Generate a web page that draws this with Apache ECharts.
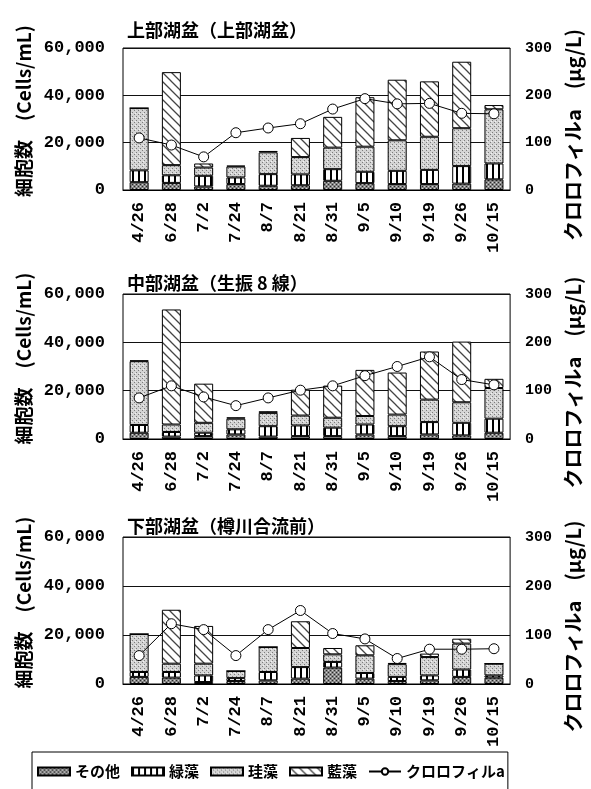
<!DOCTYPE html>
<html>
<head>
<meta charset="utf-8">
<script src="https://cdn.jsdelivr.net/npm/echarts@6/dist/echarts.min.js"></script>
<style>
  html, body { margin: 0; padding: 0; background: #fff; }
  #main { width: 591px; height: 789px; }
</style>
</head>
<body>
<div id="main"></div>
<script>
var categories = ['4/26', '6/28', '7/2', '7/24', '8/7', '8/21', '8/31', '9/5', '9/10', '9/19', '9/26', '10/15'];
var seriesNames = ['その他', '緑藻', '珪藻', '藍藻', 'クロロフィルa'];
var titles = ['上部湖盆（上部湖盆）', '中部湖盆（生振 8 線）', '下部湖盆（樽川合流前）'];
var cellTicks = [0, 20000, 40000, 60000];
var chlTicks = [0, 100, 200, 300];

// 上部湖盆
var upperOther = [3300, 3000, 1500, 2500, 1800, 2000, 3900, 2900, 2500, 2500, 2700, 4500];
var upperGreen = [5000, 3200, 4500, 2800, 4900, 4600, 4900, 4800, 5600, 6000, 7400, 6700];
var upperDiatom = [26300, 4300, 3500, 4600, 9200, 7300, 9100, 10600, 12900, 14000, 16000, 22900];
var upperBlue = [0, 39300, 1700, 400, 600, 8100, 13000, 20900, 25600, 23400, 28100, 1800];
var upperChl = [110, 95, 70, 121, 131, 140, 171, 193, 182, 183, 162, 161];

// 中部湖盆
var middleOther = [2600, 1000, 1200, 1900, 1000, 1200, 1200, 1900, 1200, 1900, 1500, 2600];
var middleGreen = [3200, 1900, 1400, 2100, 4300, 4400, 3500, 4100, 4100, 5100, 5200, 5800];
var middleDiatom = [26400, 3100, 4100, 4400, 5500, 4100, 4100, 3500, 4800, 9300, 8500, 12700];
var middleBlue = [300, 47600, 16200, 600, 700, 10700, 13300, 19100, 17400, 19900, 25100, 3800];
var middleChl = [85, 110, 87, 69, 85, 101, 110, 131, 150, 170, 123, 112];

// 下部湖盆
var lowerOther = [2900, 2600, 800, 1200, 1500, 2200, 6700, 2200, 1200, 1500, 2900, 2600];
var lowerGreen = [2000, 2300, 2700, 1200, 3400, 4700, 2300, 2300, 1700, 2000, 3000, 900];
var lowerDiatom = [15500, 3400, 4800, 2900, 10200, 7800, 3100, 7200, 5200, 7500, 10600, 4800];
var lowerBlue = [0, 22000, 15400, 0, 0, 10900, 2600, 4100, 500, 1400, 2000, 0];
var lowerChl = [58, 123, 111, 58, 111, 150, 103, 92, 52, 71, 71, 72];

var panels = [
    [upperOther, upperGreen, upperDiatom, upperBlue, upperChl],
    [middleOther, middleGreen, middleDiatom, middleBlue, middleChl],
    [lowerOther, lowerGreen, lowerDiatom, lowerBlue, lowerChl]
];

function makePattern(w, h, draw) {
    var c = document.createElement('canvas');
    c.width = w;
    c.height = h;
    draw(c.getContext('2d'));
    return { image: c, repeat: 'repeat' };
}

var patterns = [
    makePattern(4, 4, function (ctx) {
        ctx.fillStyle = '#858585';
        ctx.fillRect(0, 0, 4, 4);
        ctx.fillStyle = '#2a2a2a';
        ctx.fillRect(0, 0, 1, 1);
        ctx.fillRect(2, 2, 1, 1);
        ctx.fillStyle = '#d0d0d0';
        ctx.fillRect(2, 0, 1, 1);
        ctx.fillRect(0, 2, 1, 1);
    }),
    makePattern(6, 6, function (ctx) {
        ctx.fillStyle = '#fff';
        ctx.fillRect(0, 0, 6, 6);
        ctx.fillStyle = '#000';
        ctx.fillRect(0, 0, 2, 6);
    }),
    makePattern(4, 4, function (ctx) {
        ctx.fillStyle = '#d4d4d4';
        ctx.fillRect(0, 0, 4, 4);
        ctx.fillStyle = '#7c7c7c';
        ctx.fillRect(0, 0, 1, 1);
        ctx.fillRect(2, 2, 1, 1);
        ctx.fillStyle = '#f2f2f2';
        ctx.fillRect(3, 1, 1, 1);
    }),
    makePattern(9, 9, function (ctx) {
        ctx.fillStyle = '#fff';
        ctx.fillRect(0, 0, 9, 9);
        ctx.strokeStyle = '#444';
        ctx.lineWidth = 1.3;
        ctx.beginPath();
        ctx.moveTo(-1, -1); ctx.lineTo(10, 10);
        ctx.moveTo(-1, 8); ctx.lineTo(1, 10);
        ctx.moveTo(8, -1); ctx.lineTo(10, 1);
        ctx.stroke();
    })
];

var gridTops = [48, 294, 537];
var gridHeights = [142, 145, 147];
var titleTops = [16, 269, 512];

function withCommas(v) {
    return String(v).replace(/\B(?=(\d{3})+(?!\d))/g, ',');
}

var grids = [], xAxes = [], yAxes = [], titleList = [], series = [];

for (var p = 0; p < 3; p++) {
    titleList.push({
        text: titles[p],
        left: 122,
        top: titleTops[p],
        textStyle: { fontFamily: 'Noto Sans CJK JP', fontSize: 18, fontWeight: 'bold', color: '#000' }
    });
    grids.push({
        left: 123, right: 73, top: gridTops[p], height: gridHeights[p],
        show: true, borderColor: '#000', borderWidth: 1, backgroundColor: 'transparent'
    });
    xAxes.push({
        type: 'category',
        gridIndex: p,
        data: categories,
        axisLine: { lineStyle: { color: '#000', width: 1 } },
        axisTick: { inside: true, length: 4, lineStyle: { color: '#000' } },
        axisLabel: {
            rotate: 90, margin: 12, color: '#000',
            fontFamily: 'Liberation Mono', fontWeight: 'bold', fontSize: 17
        }
    });
    yAxes.push({
        type: 'value',
        gridIndex: p,
        min: cellTicks[0], max: cellTicks[cellTicks.length - 1], interval: cellTicks[1] - cellTicks[0],
        name: '細胞数　(Cells/mL)',
        nameLocation: 'middle',
        nameRotate: 90,
        nameGap: 88,
        nameTextStyle: { fontFamily: 'Noto Sans CJK JP', fontSize: 19, fontWeight: 'bold', color: '#000', padding: [0, 0, 0, 16] },
        axisLine: { show: false },
        axisTick: { show: false },
        splitLine: { lineStyle: { color: '#111', width: 1 } },
        axisLabel: {
            margin: 18, color: '#000', fontFamily: 'Liberation Mono', fontWeight: 'bold', fontSize: 17,
            formatter: withCommas
        }
    });
    yAxes.push({
        type: 'value',
        gridIndex: p,
        position: 'right',
        min: chlTicks[0], max: chlTicks[chlTicks.length - 1], interval: chlTicks[1] - chlTicks[0],
        name: 'クロロフィルa　(μg/L)',
        nameLocation: 'middle',
        nameRotate: 90,
        nameGap: 52,
        nameTextStyle: { fontFamily: 'Noto Sans CJK JP', fontSize: 20, fontWeight: 'bold', color: '#000', padding: [0, 32, 0, 0] },
        axisLine: { show: false },
        axisTick: { show: false },
        splitLine: { show: false },
        axisLabel: { margin: 15, color: '#000', fontFamily: 'Liberation Mono', fontWeight: 'bold', fontSize: 15 }
    });
    for (var s = 0; s < 4; s++) {
        series.push({
            name: seriesNames[s],
            type: 'bar',
            xAxisIndex: p,
            yAxisIndex: p * 2,
            stack: 'cells' + p,
            barWidth: 19,
            data: panels[p][s],
            itemStyle: { color: patterns[s], borderColor: '#000', borderWidth: 1 },
            emphasis: { disabled: true }
        });
    }
    series.push({
        name: seriesNames[4],
        type: 'line',
        xAxisIndex: p,
        yAxisIndex: p * 2 + 1,
        data: panels[p][4],
        symbol: 'circle',
        symbolSize: 10,
        z: 5,
        lineStyle: { color: '#000', width: 1 },
        itemStyle: { color: '#fff', borderColor: '#000', borderWidth: 1 },
        emphasis: { disabled: true }
    });
}

var myChart = echarts.init(document.getElementById('main'));
var option = {
    backgroundColor: '#fff',
    animation: false,
    title: titleList,
    legend: {
        data: [
            { name: 'その他', icon: 'rect' },
            { name: '緑藻', icon: 'rect' },
            { name: '珪藻', icon: 'rect' },
            { name: '藍藻', icon: 'rect' },
            { name: 'クロロフィルa' }
        ],
        left: 32,
        top: 752,
        padding: [12, 3, 40, 5],
        itemWidth: 32,
        itemHeight: 8,
        itemGap: 11,
        borderColor: '#000',
        borderWidth: 1,
        textStyle: { fontFamily: 'Noto Sans CJK JP', fontSize: 15, fontWeight: 'bold', color: '#000' }
    },
    grid: grids,
    xAxis: xAxes,
    yAxis: yAxes,
    series: series
};
myChart.setOption(option);
</script>
</body>
</html>
